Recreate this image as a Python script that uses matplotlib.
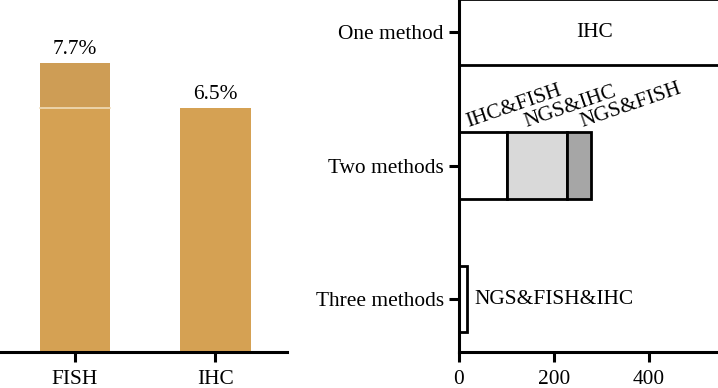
import matplotlib
matplotlib.use("Agg")
import matplotlib.pyplot as plt
import numpy as np

plt.rcParams['font.family'] = ['Liberation Serif', 'DejaVu Serif']

# ---- data ----
left_categories = ["FISH", "IHC"]
left_values = [7.7, 6.5]          # percent
fish_shared = 6.5                 # lower (shared) portion of FISH bar
left_labels = ["7.7%", "6.5%"]

right_categories = ["One method", "Two methods", "Three methods"]
one_method = [("IHC", 572)]
two_methods = [("IHC&FISH", 100), ("NGS&IHC", 128), ("NGS&FISH", 49)]
three_methods = [("NGS&FISH&IHC", 17)]
right_xticks = [0, 200, 400]

# ---- style ----
bar_color = "#D5A153"
bar_top_color = "#CE9D55"
two_colors = ["white", "#D9D9D9", "#A6A6A6"]
FS = 15.4
W, H = 718, 388
fig = plt.figure(figsize=(W / 100, H / 100), dpi=100)

axL = fig.add_axes([0, 1 - 352 / H, 287 / W, 352 / H])
axR = fig.add_axes([459 / W, 1 - 352 / H, 1 - 459 / W, 352 / H])

# ---- left panel ----
x = np.arange(len(left_categories))
axL.bar(x[0], fish_shared, width=0.5, color=bar_color, edgecolor="none")
axL.bar(x[0], left_values[0] - fish_shared, bottom=fish_shared, width=0.5,
        color=bar_top_color, edgecolor="none")
axL.plot([x[0] - 0.25, x[0] + 0.25], [fish_shared, fish_shared],
         color="#F0DCB8", lw=1.2)
axL.bar(x[1], left_values[1], width=0.5, color=bar_color, edgecolor="none")
for xi, v, lab in zip(x, left_values, left_labels):
    axL.annotate(lab, (xi, v), xytext=(0, 3), textcoords="offset points",
                 ha="center", va="bottom", fontsize=FS)
axL.set_xlim(-0.534, 1.509)
axL.set_ylim(0, 9.38)
axL.set_xticks(x)
axL.set_xticklabels(left_categories, fontsize=FS)
axL.set_yticks([])
for s in ["left", "right", "top"]:
    axL.spines[s].set_visible(False)
axL.spines["bottom"].set_linewidth(2.2)
axL.tick_params(axis="x", length=7, width=2.2, pad=6)

# ---- right panel ----
ypos = np.arange(len(right_categories))
bh = 0.5
EW = 2.0
for (lab, v) in one_method:
    axR.barh(ypos[0], v, height=bh, color="white", edgecolor="black", lw=EW)
    axR.text(v / 2, ypos[0], lab, ha="center", va="center", fontsize=FS)

left = 0
label_offsets_px = [9, 20, 15]
for (lab, v), c, off in zip(two_methods, two_colors, label_offsets_px):
    axR.barh(ypos[1], v, left=left, height=bh, color=c, edgecolor="black", lw=EW)
    axR.annotate(lab, (left, ypos[1] - bh / 2), xytext=(off * 0.72, 4),
                 textcoords="offset points", rotation=19,
                 rotation_mode="anchor", ha="left", va="baseline", fontsize=FS)
    left += v

for (lab, v) in three_methods:
    axR.barh(ypos[2], v, height=bh, color="white", edgecolor="black", lw=EW)
    axR.annotate(lab, (v, ypos[2]), xytext=(5, 0), textcoords="offset points",
                 ha="left", va="center", fontsize=FS)

axR.set_ylim(2.397, -0.24)
axR.set_xlim(0, 545)
axR.set_yticks(ypos)
axR.set_yticklabels(right_categories, fontsize=FS)
axR.set_xticks(right_xticks)
axR.set_xticklabels([str(t) for t in right_xticks], fontsize=FS)
for s in ["right", "top"]:
    axR.spines[s].set_visible(False)
for s in ["left", "bottom"]:
    axR.spines[s].set_linewidth(2.2)
axR.tick_params(axis="both", length=7, width=2.2, pad=4)
axR.tick_params(axis="x", pad=6)
for a in (axL, axR):
    a.patch.set_alpha(0)

fig.savefig("out.png", dpi=100)
